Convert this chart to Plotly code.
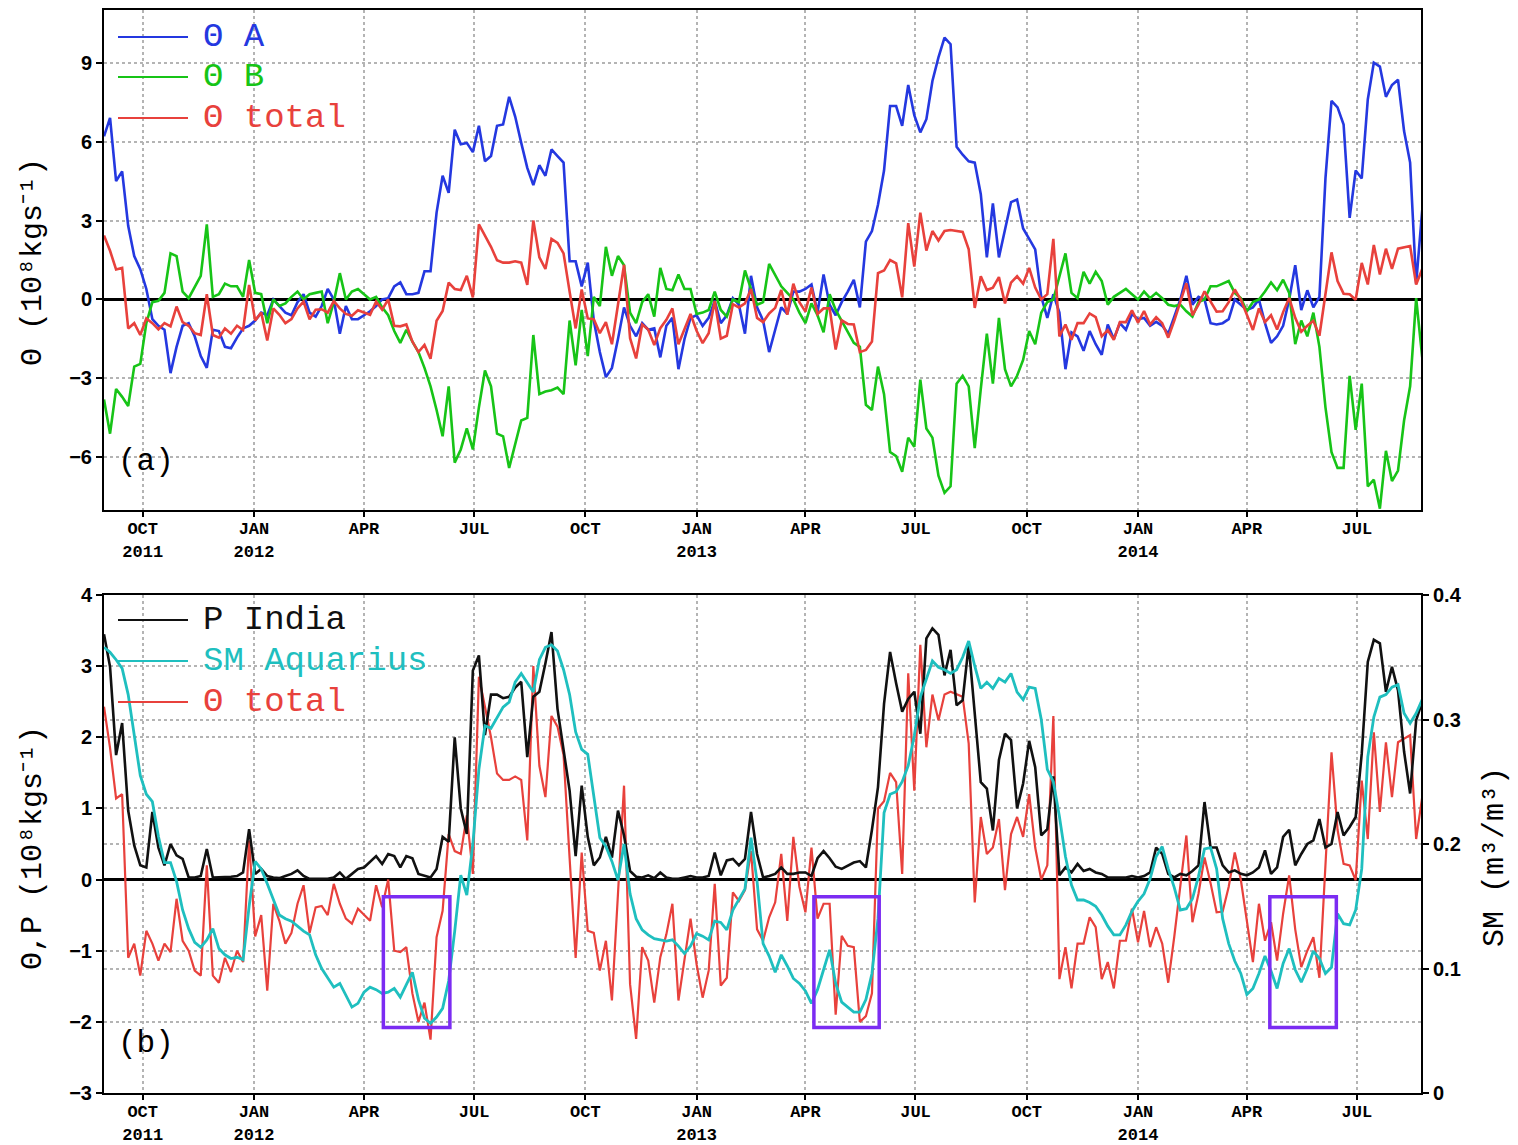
import plotly.graph_objects as go
import pandas as pd

# ---------------- data (pentad sampling) ----------------
START = "2011-08-30"
END = "2014-08-23"
STEP = "5D"

theta_A = [
    6.2, 6.9, 4.5, 4.87, 2.8, 1.65, 1.15, 0.4, -0.75, -1.0,
    -1.15, -2.8, -1.8, -1.0, -0.9, -1.4, -2.15, -2.6, -1.15, -1.2,
    -1.8, -1.85, -1.45, -1.1, -1.0, -0.8, -0.5, -0.6, 0.0, -0.25,
    -0.5, -0.6, -0.1, 0.2, -0.5, -0.65, -0.25, 0.4, 0.0, -1.3,
    -0.25, -0.75, -0.75, -0.6, -0.45, -0.25, 0.0, 0.05, 0.5, 0.65,
    0.2, 0.2, 0.25, 1.07, 1.07, 3.3, 4.7, 4.05, 6.45, 5.9,
    5.95, 5.6, 6.6, 5.25, 5.45, 6.6, 6.65, 7.7, 6.95, 5.95,
    5.0, 4.35, 5.1, 4.7, 5.7, 5.45, 5.2, 1.45, 1.45, 0.5,
    1.4, -0.8, -2.0, -2.95, -2.6, -1.5, -0.3, -1.0, -1.4, -0.9,
    -1.15, -1.1, -2.2, -1.0, -0.7, -2.65, -1.5, -0.7, -0.6, -1.0,
    -0.7, -0.05, -0.9, -0.6, 0.05, -0.2, -1.3, 0.9, -0.3, -0.8,
    -2.0, -1.15, -0.3, -0.55, 0.3, 0.3, 0.4, 0.57, -0.5, 0.95,
    -0.2, -0.6, -0.1, 0.3, 0.75, -0.3, 2.2, 2.6, 3.6, 4.9,
    7.35, 7.35, 6.6, 8.15, 7.0, 6.35, 6.85, 8.3, 9.2, 9.95,
    9.7, 5.8, 5.5, 5.25, 5.2, 4.0, 1.6, 3.65, 1.6, 2.65,
    3.7, 3.8, 2.7, 2.3, 1.9, 0.1, -0.7, 0.2, -0.5, -2.65,
    -1.25, -1.4, -1.95, -1.2, -1.7, -2.1, -0.95, -1.5, -0.9, -1.15,
    -0.55, -0.75, -0.7, -1.0, -0.85, -1.0, -1.3, -0.65, 0.0, 0.9,
    -0.2, 0.1, 0.0, -0.9, -0.95, -0.9, -0.75, 0.0, -0.2, -0.4,
    -0.3, 0.0, -0.9, -1.65, -1.4, -1.0, 0.0, 1.3, -0.4, 0.35,
    -0.3, 0.1, 4.6, 7.55, 7.3, 6.65, 3.1, 4.9, 4.6, 7.6,
    9.0, 8.85, 7.7, 8.15, 8.35, 6.4, 5.2, 0.6, 3.4,
]

theta_B = [
    -3.8, -5.1, -3.4, -3.7, -4.05, -2.55, -2.45, -0.9, -0.1, -0.05,
    0.25, 1.75, 1.65, 0.3, 0.05, 0.5, 0.9, 2.85, 0.1, 0.2,
    0.6, 0.5, 0.5, 0.1, 1.5, 0.25, 0.2, -0.9, 0.0, -0.25,
    -0.15, 0.1, 0.3, 0.0, 0.2, 0.25, 0.3, -0.9, -0.1, 1.0,
    0.0, 0.3, 0.4, 0.2, 0.0, 0.1, -0.3, -0.6, -1.2, -1.65,
    -1.15, -1.6, -2.0, -2.6, -3.3, -4.2, -5.2, -3.3, -6.2, -5.7,
    -4.9, -5.7, -4.1, -2.7, -3.3, -5.1, -5.2, -6.4, -5.5, -4.6,
    -4.5, -1.35, -3.6, -3.5, -3.45, -3.35, -3.6, -0.8, -2.5, -0.4,
    -2.15, 0.1, -0.25, 2.0, 0.9, 1.65, 1.3, -0.5, -0.9, -0.1,
    0.2, -0.65, 1.2, 0.4, 0.35, 0.95, 0.4, 0.4, -0.55, -0.5,
    -0.4, 0.3, -0.4, -0.65, 0.0, -0.1, 1.1, 0.4, -0.2, -0.1,
    1.35, 0.9, 0.5, 0.25, 0.0, -0.5, -0.9, -0.15, -0.6, -1.25,
    0.2, -0.4, -0.8, -1.25, -1.65, -1.8, -4.0, -4.2, -2.55, -3.6,
    -5.8, -5.95, -6.55, -5.25, -5.6, -3.05, -4.9, -5.25, -6.7, -7.35,
    -7.1, -3.2, -2.9, -3.3, -5.65, -3.4, -1.3, -3.2, -0.7, -2.65,
    -3.3, -2.9, -2.3, -1.2, -1.7, -0.5, -0.1, 0.0, 0.9, 1.75,
    0.25, 0.05, 1.05, 0.6, 1.05, 0.7, -0.2, 0.1, 0.25, 0.4,
    0.2, 0.0, 0.3, 0.05, 0.25, 0.05, -0.2, -0.25, -0.2, -0.45,
    -0.65, -0.1, 0.0, 0.5, 0.5, 0.6, 0.7, 0.25, 0.05, -0.45,
    -0.1, 0.0, 0.3, 0.65, 0.35, 0.75, 0.25, -1.7, -0.8, -1.4,
    -0.5, -1.8, -4.1, -5.8, -6.4, -6.4, -2.9, -4.95, -3.2, -7.1,
    -6.85, -7.95, -5.75, -6.9, -6.5, -4.6, -3.3, 0.05, -2.2,
]

theta_total = [
    2.43, 1.85, 1.14, 1.2, -1.1, -0.9, -1.35, -0.72, -0.9, -1.14,
    -0.9, -1.02, -0.27, -0.86, -1.0, -1.28, -1.35, 0.2, -1.35, -1.45,
    -1.1, -1.3, -1.0, -1.16, 0.55, -0.8, -0.5, -1.56, -0.34, -0.58,
    -0.9, -0.75, -0.34, -0.08, -0.75, -0.39, -0.37, -0.5, -0.06, -0.34,
    -0.55, -0.62, -0.41, -0.5, -0.58, -0.08, -0.39, 0.0, -1.0, -1.02,
    -0.95, -1.6, -2.0, -1.73, -2.25, -0.81, -0.44, 0.64, 0.4, 0.36,
    0.9, 0.08, 2.85, 2.43, 2.0, 1.49, 1.4, 1.4, 1.45, 1.4,
    0.55, 3.0, 1.6, 1.16, 2.3, 2.15, 1.75, 0.3, -1.1, 0.38,
    -0.72, -0.75, -1.28, -0.86, -1.7, -0.2, 1.32, -1.47, -2.24, -0.95,
    -1.14, -1.73, -1.09, -0.77, -0.34, -1.7, -1.14, -0.55, -1.19, -1.66,
    -1.28, -0.06, -1.49, -1.38, -0.18, -0.3, -0.15, 0.4, -0.7, -0.86,
    -0.53, -0.32, 0.36, -0.58, 0.6, -0.1, -0.46, 0.45, -0.55, -0.34,
    -0.34, -1.9, -0.79, -0.93, -0.95, -2.0, -1.92, -1.6, 1.0, 1.1,
    1.5, 1.37, 0.08, 2.9, 1.25, 3.3, 1.86, 2.6, 2.24, 2.6,
    2.64, 2.6, 2.57, 1.91, -0.32, 0.88, 0.36, 0.45, 0.85, -0.15,
    0.64, 0.88, 0.6, 1.2, 0.45, 0.0, 0.2, 2.3, -1.4, -0.95,
    -1.53, -0.9, -0.9, -0.53, -0.67, -1.4, -1.16, -1.53, -0.86, -0.86,
    -0.41, -0.88, -0.44, -0.95, -0.67, -0.9, -1.45, -0.8, -0.1, 0.62,
    -0.6, -0.2, 0.31, -0.05, -0.46, -0.45, -0.1, 0.38, 0.0, -0.58,
    -1.16, -0.34, -0.86, -0.6, -1.14, -0.48, 0.06, -0.7, -1.23, -1.0,
    -0.81, -1.38, 0.3, 1.79, 0.7, 0.22, 0.2, -0.01, 1.39, 0.57,
    2.07, 0.95, 1.93, 1.16, 1.93, 1.98, 2.03, 0.57, 1.16,
]

p_india = [
    3.45, 2.99, 1.75, 2.2, 0.97, 0.48, 0.2, 0.17, 0.95, 0.45,
    0.2, 0.5, 0.34, 0.29, 0.03, 0.03, 0.05, 0.43, 0.03, 0.03,
    0.03, 0.04, 0.05, 0.1, 0.71, 0.08, 0.15, 0.05, 0.03, 0.02,
    0.05, 0.08, 0.13, 0.05, 0.01, 0.01, 0.01, 0.01, 0.03, 0.1,
    0.01, 0.08, 0.15, 0.17, 0.25, 0.33, 0.22, 0.36, 0.33, 0.17,
    0.33, 0.3, 0.08, 0.05, 0.03, 0.15, 0.6, 0.53, 2.0, 1.0,
    0.64, 2.94, 3.15, 2.03, 2.6, 2.6, 2.55, 2.57, 2.7, 2.78,
    1.72, 2.57, 2.64, 3.04, 3.48, 2.4, 1.85, 1.25, 0.33, 1.32,
    0.6, 0.2, 0.31, 0.6, 0.31, 0.97, 0.62, 0.12, 0.04, 0.03,
    0.06, 0.02, 0.1, 0.03, 0.01, 0.01, 0.03, 0.05, 0.03, 0.03,
    0.05, 0.38, 0.06, 0.27, 0.29, 0.2, 0.29, 0.95, 0.36, 0.03,
    0.05, 0.08, 0.17, 0.08, 0.08, 0.1, 0.1, 0.05, 0.3, 0.4,
    0.3, 0.18, 0.15, 0.2, 0.24, 0.26, 0.17, 0.7, 1.3, 2.47,
    3.2, 2.76, 2.36, 2.54, 2.64, 2.05, 3.39, 3.53, 3.44, 2.87,
    3.23, 2.45, 2.52, 3.3, 2.33, 1.37, 1.28, 0.69, 1.68, 2.05,
    1.96, 1.0, 1.35, 1.95, 1.58, 0.62, 0.71, 1.45, 0.06, 0.17,
    0.1, 0.22, 0.12, 0.15, 0.1, 0.08, 0.03, 0.03, 0.03, 0.03,
    0.05, 0.03, 0.05, 0.1, 0.45, 0.36, 0.08, 0.03, 0.08, 0.06,
    0.12, 0.2, 1.09, 0.45, 0.45, 0.2, 0.1, 0.13, 0.08, 0.06,
    0.1, 0.17, 0.41, 0.08, 0.17, 0.6, 0.7, 0.2, 0.36, 0.5,
    0.55, 0.85, 0.45, 0.5, 0.95, 0.62, 0.74, 0.88, 1.77, 3.06,
    3.37, 3.32, 2.64, 2.99, 2.66, 1.8, 1.21, 2.24, 2.5,
]

sm_aquarius = [
    0.358, 0.354, 0.348, 0.341, 0.32, 0.287, 0.255, 0.24, 0.234, 0.206,
    0.185, 0.185, 0.17, 0.147, 0.132, 0.121, 0.117, 0.123, 0.132, 0.116,
    0.111, 0.108, 0.109, 0.107, 0.15, 0.186, 0.18, 0.168, 0.155, 0.143,
    0.14, 0.138, 0.134, 0.13, 0.127, 0.111, 0.1, 0.093, 0.085, 0.088,
    0.078, 0.069, 0.072, 0.081, 0.085, 0.083, 0.08, 0.081, 0.084, 0.077,
    0.087, 0.097, 0.075, 0.06, 0.056, 0.061, 0.068, 0.09, 0.13, 0.175,
    0.159, 0.2, 0.26, 0.295, 0.293, 0.302, 0.31, 0.314, 0.33, 0.337,
    0.33, 0.322, 0.348, 0.358, 0.36, 0.355, 0.34, 0.32, 0.29, 0.276,
    0.272, 0.24, 0.205, 0.198, 0.186, 0.171, 0.2, 0.16, 0.14, 0.131,
    0.127, 0.124, 0.123, 0.122, 0.123, 0.118, 0.112, 0.118, 0.128, 0.126,
    0.123, 0.138, 0.137, 0.131, 0.147, 0.156, 0.164, 0.205, 0.17, 0.12,
    0.11, 0.097, 0.111, 0.102, 0.092, 0.088, 0.082, 0.072, 0.083, 0.099,
    0.115, 0.088, 0.073, 0.069, 0.065, 0.065, 0.075, 0.096, 0.14, 0.225,
    0.24, 0.242, 0.25, 0.263, 0.287, 0.318, 0.333, 0.347, 0.342, 0.34,
    0.337, 0.34, 0.35, 0.363, 0.343, 0.325, 0.33, 0.325, 0.333, 0.33,
    0.337, 0.322, 0.316, 0.326, 0.325, 0.3, 0.26, 0.25, 0.222, 0.19,
    0.167, 0.155, 0.155, 0.153, 0.15, 0.143, 0.134, 0.127, 0.127, 0.135,
    0.146, 0.154, 0.16, 0.172, 0.19, 0.198, 0.18, 0.165, 0.147, 0.148,
    0.156, 0.174, 0.196, 0.197, 0.18, 0.14, 0.12, 0.106, 0.096, 0.079,
    0.084, 0.096, 0.11, 0.098, 0.084, 0.104, 0.116, 0.099, 0.089, 0.1,
    0.114, 0.108, 0.096, 0.101, 0.144, 0.136, 0.135, 0.147, 0.18, 0.27,
    0.302, 0.318, 0.32, 0.326, 0.328, 0.305, 0.297, 0.305, 0.316,
]

tick_dates = ["2011-10-01", "2012-01-01", "2012-04-01", "2012-07-01",
              "2012-10-01", "2013-01-01", "2013-04-01", "2013-07-01",
              "2013-10-01", "2014-01-01", "2014-04-01", "2014-07-01"]
tick_labels = ["OCT<br>2011", "JAN<br>2012", "APR", "JUL", "OCT",
               "JAN<br>2013", "APR", "JUL", "OCT", "JAN<br>2014", "APR", "JUL"]

# highlighted dry pre-monsoon windows (panel b)
box_starts = ["2012-04-17", "2013-04-08", "2014-04-20"]
box_ends = ["2012-06-11", "2013-06-01", "2014-06-14"]
box_low, box_high = -2.08, -0.24

# ---------------- styling ----------------
BLUE = "#2438e0"
GREEN = "#17c417"
RED = "#e8413c"
CYAN = "#1fbfbf"
BLACK = "#111111"
PURPLE = "#7b2cf2"

W, H = 1518, 1145
ML, MR, MT, MB = 104, 97, 10, 52
PW, PH = W - ML - MR, H - MT - MB


def px(xp):
    return (xp - ML) / PW


def py(yp):
    return (H - MB - yp) / PH


dates = pd.date_range(START, periods=len(theta_A), freq=STEP)

fig = go.Figure()
LW = 2.6
fig.add_trace(go.Scatter(x=dates[:len(theta_A)], y=theta_A, mode="lines",
                         line=dict(color=BLUE, width=LW), xaxis="x", yaxis="y"))
fig.add_trace(go.Scatter(x=dates[:len(theta_B)], y=theta_B, mode="lines",
                         line=dict(color=GREEN, width=LW), xaxis="x", yaxis="y"))
fig.add_trace(go.Scatter(x=dates[:len(theta_total)], y=theta_total, mode="lines",
                         line=dict(color=RED, width=LW), xaxis="x", yaxis="y"))

fig.add_trace(go.Scatter(x=dates[:len(theta_total)], y=theta_total, mode="lines",
                         line=dict(color=RED, width=2.2), xaxis="x2", yaxis="y2"))
fig.add_trace(go.Scatter(x=dates[:len(sm_aquarius)], y=sm_aquarius, mode="lines",
                         line=dict(color=CYAN, width=2.8), xaxis="x2", yaxis="y3"))
fig.add_trace(go.Scatter(x=dates[:len(p_india)], y=p_india, mode="lines",
                         line=dict(color=BLACK, width=2.6), xaxis="x2", yaxis="y2"))

tickfont_x = dict(family="Liberation Mono", size=17, color="black", weight="bold")
tickfont_y = dict(family="Liberation Sans", size=20, color="black", weight="bold")
GRID = dict(showgrid=True, gridcolor="#b4b4b4", griddash="dot", gridwidth=1.5)

xcommon = dict(range=[START, END], tickmode="array", tickvals=tick_dates,
               ticktext=tick_labels, ticks="outside", ticklen=5, tickwidth=2,
               tickcolor="black", showline=True, linecolor="black", linewidth=2,
               mirror=True, tickfont=tickfont_x, zeroline=False,
               ticklabelstandoff=-3, automargin=False, **GRID)

ycommon = dict(ticks="outside", ticklen=6, tickwidth=2, tickcolor="black",
               showline=True, linecolor="black", linewidth=2, mirror=True,
               tickfont=tickfont_y, zeroline=True, zerolinecolor="black",
               zerolinewidth=2.5, automargin=False, **GRID)

TOP_BOTTOM = py(510)
B_TOP = py(595)

fig.update_layout(
    width=W, height=H,
    margin=dict(l=ML, r=MR, t=MT, b=MB, autoexpand=False),
    paper_bgcolor="white", plot_bgcolor="white",
    showlegend=False,
    xaxis=dict(domain=[0, 1], anchor="y", **xcommon),
    xaxis2=dict(domain=[0, 1], anchor="y2", **xcommon),
    yaxis=dict(domain=[TOP_BOTTOM, 1], anchor="x", range=[-8, 11],
               tickvals=[-6, -3, 0, 3, 6, 9], **ycommon),
    yaxis2=dict(domain=[0, B_TOP], anchor="x2", range=[-3, 4], dtick=1, **ycommon),
    yaxis3=dict(overlaying="y2", anchor="x2", side="right", range=[0, 0.4],
                dtick=0.1, ticks="outside", ticklen=6, tickwidth=2,
                tickcolor="black", showline=True, linecolor="black", linewidth=2,
                tickfont=tickfont_y, zeroline=False, automargin=False, **GRID),
)

shapes = []
for x0, x1 in zip(box_starts, box_ends):
    shapes.append(dict(type="rect", xref="x2", yref="y2", x0=x0, x1=x1,
                       y0=box_low, y1=box_high,
                       line=dict(color=PURPLE, width=3.5)))

LEG_FONT = "Liberation Mono"
annotations = []
legend_a = [("Θ A", BLUE, 37), ("Θ B", GREEN, 77), ("Θ total", RED, 118)]
legend_b = [("P India", BLACK, 620), ("SM Aquarius", CYAN, 661), ("Θ total", RED, 702)]
for label, col, yp in legend_a + legend_b:
    shapes.append(dict(type="line", xref="paper", yref="paper",
                       x0=px(118), x1=px(188), y0=py(yp), y1=py(yp),
                       line=dict(color=col, width=2)))
    annotations.append(dict(xref="paper", yref="paper", x=px(201), y=py(yp),
                            xanchor="left", yanchor="middle", showarrow=False,
                            text=label, font=dict(family=LEG_FONT, size=34, color=col)))

annotations.append(dict(xref="paper", yref="paper", x=px(116), y=py(461),
                        xanchor="left", yanchor="middle", showarrow=False, text="(a)",
                        font=dict(family=LEG_FONT, size=31, color="black")))
annotations.append(dict(xref="paper", yref="paper", x=px(116), y=py(1043),
                        xanchor="left", yanchor="middle", showarrow=False, text="(b)",
                        font=dict(family=LEG_FONT, size=31, color="black")))

TITLE_FONT = dict(family=LEG_FONT, size=30, color="black")
annotations.append(dict(xref="paper", yref="paper", x=px(33), y=py(262),
                        xanchor="center", yanchor="middle", showarrow=False,
                        textangle=-90, text="Θ (10⁸kgs⁻¹)", font=TITLE_FONT))
annotations.append(dict(xref="paper", yref="paper", x=px(33), y=py(848),
                        xanchor="center", yanchor="middle", showarrow=False,
                        textangle=-90, text="Θ,P (10⁸kgs⁻¹)", font=TITLE_FONT))
annotations.append(dict(xref="paper", yref="paper", x=px(1495), y=py(857),
                        xanchor="center", yanchor="middle", showarrow=False,
                        textangle=-90, text="SM (m³/m³)", font=TITLE_FONT))

fig.update_layout(shapes=shapes, annotations=annotations)
fig.write_html("out.html")
